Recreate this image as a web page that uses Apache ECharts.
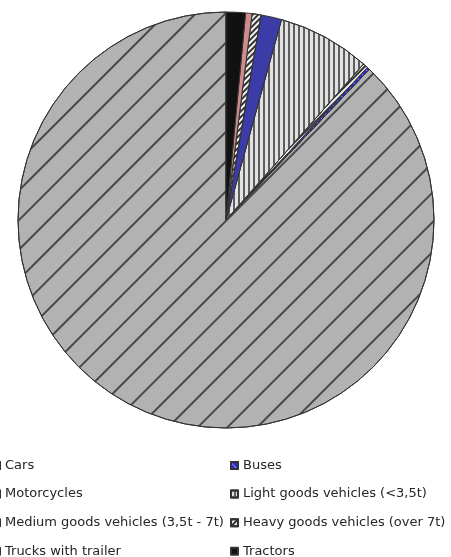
<!DOCTYPE html>
<html><head><meta charset="utf-8">
<script src="https://cdn.jsdelivr.net/npm/echarts@6/dist/echarts.min.js"></script>
<style>html,body{margin:0;padding:0;background:#fff}#c{width:451px;height:557px}</style>
</head><body><div id="c"></div>
<script>
const categories = ['Cars','Buses','Motorcycles','Light goods vehicles (<3,5t)','Medium goods vehicles (3,5t - 7t)','Heavy goods vehicles (over 7t)','Trucks with trailer','Tractors'];
const shares = [87.9, 0.2, 0.4, 7.2, 1.6, 0.7, 0.5, 1.5];
const leftLegend = ['Cars','Motorcycles','Medium goods vehicles (3,5t - 7t)','Trucks with trailer'];
const rightLegend = ['Buses','Light goods vehicles (<3,5t)','Heavy goods vehicles (over 7t)','Tractors'];

const styles = {
  'Cars': {color:'#b2b2b2', decal:{symbol:'rect',symbolSize:1,dashArrayX:[[1,0]],dashArrayY:[1.6,18.2],rotation:-Math.PI/4,color:'#484848'}},
  'Buses': {color:'#2a2ad8', decal:{symbol:'rect',symbolSize:1,dashArrayX:[[1,0]],dashArrayY:[1,5],rotation:Math.PI/4,color:'#8888ff'}},
  'Motorcycles': {color:'#f4f4f4', decal:{symbol:'rect',symbolSize:1,dashArrayX:[[1,0]],dashArrayY:[1.2,2],rotation:-Math.PI/4,color:'#333'}},
  'Light goods vehicles (<3,5t)': {color:'#e2e2e2', decal:{symbol:'rect',symbolSize:1,dashArrayX:[[1,0]],dashArrayY:[2,2.7],rotation:Math.PI/2,color:'#5e5e5e'}},
  'Medium goods vehicles (3,5t - 7t)': {color:'#3c3ca8'},
  'Heavy goods vehicles (over 7t)': {color:'#f4f4f4', decal:{symbol:'rect',symbolSize:1,dashArrayX:[[1,0]],dashArrayY:[1.2,2],rotation:-Math.PI/4,color:'#333'}},
  'Trucks with trailer': {color:'#d08c8c'},
  'Tractors': {color:'#111'}
};

const data = categories.map((n,i)=>({name:n, value:shares[i], itemStyle:Object.assign({borderColor:'#333',borderWidth:1}, styles[n])}));

const legendBase = {orient:'vertical', icon:'rect', itemWidth:7, itemHeight:7, itemGap:15.6, top:459, padding:0, height:110,
  textStyle:{fontFamily:'DejaVu Sans, sans-serif', fontSize:13, color:'#262626'}, selectedMode:false};

const chart = echarts.init(document.getElementById('c'));
chart.setOption({
  animation:false,
  legend:[Object.assign({}, legendBase, {left:-8, data:leftLegend}), Object.assign({}, legendBase, {left:230, data:rightLegend})],
  series:[{type:'pie', center:[226,220], radius:208, startAngle:90, clockwise:false,
    label:{show:false}, labelLine:{show:false}, emphasis:{disabled:true}, data:data}]
});
</script></body></html>
